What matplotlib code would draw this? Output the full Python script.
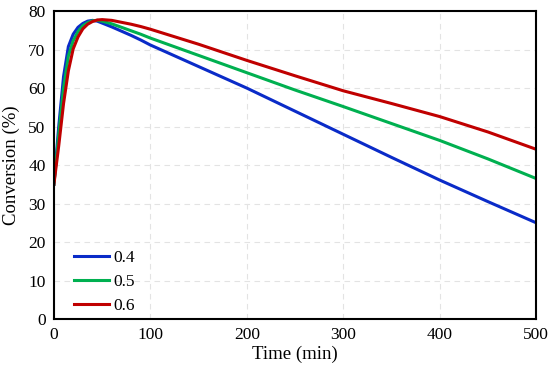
import matplotlib.pyplot as plt
import numpy as np

plt.rcParams['font.family'] = ['Liberation Serif', 'DejaVu Serif']

# time points (min)
time = [0, 5, 10, 15, 20, 25, 30, 35, 40, 45, 50, 60, 70, 80, 90, 100,
        150, 200, 250, 300, 350, 400, 450, 500]

# conversion (%) for each ratio
conv_04 = [35, 50, 63, 70.8, 74, 75.8, 76.8, 77.4, 77.6, 77.4, 76.9, 75.9, 74.8,
           73.7, 72.5, 71.2, 65.6, 60, 54, 48, 42, 36.1, 30.5, 25]
conv_05 = [35, 48, 60, 68.3, 72.3, 74.7, 76.2, 77.0, 77.5, 77.6, 77.4, 76.7, 75.8,
           74.9, 74.0, 73.0, 68.5, 64, 59.5, 55.2, 50.8, 46.4, 41.6, 36.5]
conv_06 = [35, 45, 56, 64.5, 70.2, 73.3, 75.4, 76.6, 77.3, 77.7, 77.8, 77.6, 77.1,
           76.6, 76.0, 75.3, 71.4, 67.2, 63.2, 59.3, 56.0, 52.6, 48.6, 44.1]

labels = ['0.4', '0.5', '0.6']
colors = ['#0A2BC8', '#00B050', '#C00000']

fig = plt.figure(figsize=(5.5, 3.71), dpi=100)
ax = fig.add_axes([0.098, 0.140, 0.877, 0.830])

for y, lab, c in zip([conv_04, conv_05, conv_06], labels, colors):
    ax.plot(time, y, color=c, lw=2.2, label=lab, solid_joinstyle='round')

ax.set_xlim(0, 500)
ax.set_ylim(0, 80)
ax.set_xticks(np.arange(0, 501, 100))
ax.set_yticks(np.arange(0, 81, 10))
ax.tick_params(length=0, labelsize=12.5, pad=6)
ax.grid(True, color='#E3E3E3', ls=(0, (5, 4)), lw=0.8)
ax.set_axisbelow(True)
for s in ax.spines.values():
    s.set_linewidth(1.5)
    s.set_color('black')

ax.set_xlabel('Time (min)', fontsize=13.5, labelpad=2)
ax.set_ylabel('Conversion (%)', fontsize=13.5, labelpad=6)

ax.legend(loc='lower left', frameon=False, fontsize=12.5, handlelength=2.0,
          handletextpad=0.25, labelspacing=0.45, bbox_to_anchor=(0.02, -0.018),
          borderaxespad=0.2)

fig.savefig('out.png', dpi=100)
